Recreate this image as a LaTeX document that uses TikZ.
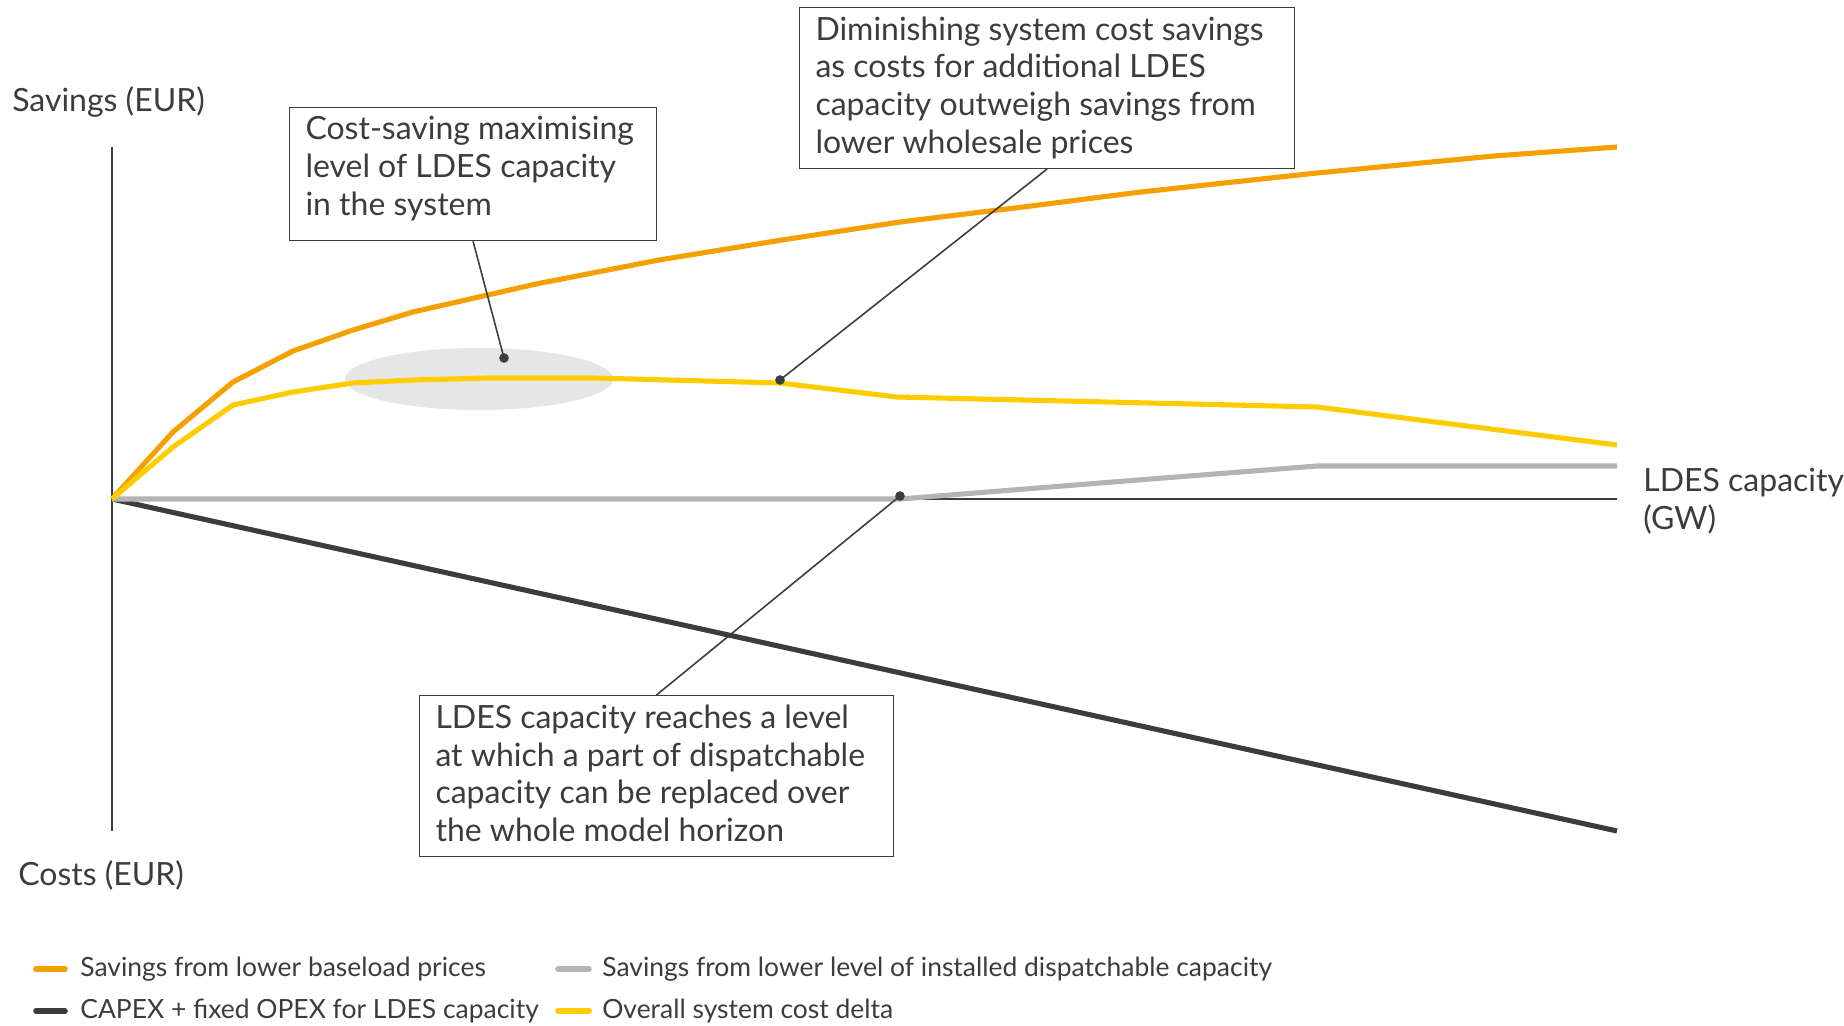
\documentclass[tikz,border=0pt]{standalone}
\usepackage{fontspec}
\setmainfont{Lato}
\usepackage{tikz}

\definecolor{ldesorange}{RGB}{244,160,0}
\definecolor{ldesyellow}{RGB}{255,204,0}
\definecolor{ldesgray}{RGB}{180,180,180}
\definecolor{ldesdark}{RGB}{60,60,60}
\definecolor{ldestext}{RGB}{60,60,60}
\definecolor{ldesshade}{RGB}{230,230,230}

\begin{document}
\begin{tikzpicture}[x=2cm, y=2cm,
    every node/.style={text=ldestext, font=\fontsize{18.2}{21.6}\selectfont},
    curve/.style={line width=2.9pt, line join=round},
    notebox/.style={draw=ldestext, line width=0.8pt, fill=white, align=left,
      anchor=north west, inner xsep=9pt, inner ysep=5pt,
      execute at begin node={\spaceskip=0pt\relax}},
    leader/.style={draw=ldestext, line width=0.9pt},
    dot/.style={circle, fill=ldestext, inner sep=0pt, minimum size=5.5pt},
    axislabel/.style={anchor=west, align=left, inner xsep=0pt},
    legend/.style={font=\fontsize{15.05}{18}\selectfont, anchor=west, inner sep=0pt},
    swatch/.style={line width=3.2pt, line cap=round}]

    \useasboundingbox (-1.12,-5.27) rectangle (17.32,4.99);

    % Shaded optimum area
    \fill[ldesshade] (3.67,1.20) ellipse (1.34 and 0.31);

    % Axes
    \draw[ldesdark, line width=1pt] (0,3.52) -- (0,-3.32);
    \draw[ldesdark, line width=1pt] (0,0) -- (15.05,0);
    \node[axislabel] (savlabel) at (-1.00,3.97) {Savings (EUR)};
    \node[axislabel] (costlabel) at (-0.94,-3.76) {Costs (EUR)};
    \node[axislabel] (caplabel) at (15.31,-0.02) {LDES capacity\\(GW)};

    % CAPEX + fixed OPEX
    \draw[curve, ldesdark] (0,0) -- (15.05,-3.32);

    % Savings from dispatchable capacity
    \draw[curve, ldesgray] (0,0) -- (7.88,0) -- (10.26,0.19) -- (12.05,0.33) -- (15.05,0.33);

    % Savings from baseload prices
    \draw[curve, ldesorange] plot coordinates {(0,0) (0.61,0.67) (1.21,1.17) (1.81,1.48)
      (2.41,1.69) (3.01,1.87) (4.24,2.15) (5.47,2.39) (6.70,2.59) (7.88,2.77)
      (9.11,2.92) (10.29,3.07) (12.05,3.26) (13.82,3.43) (15.05,3.52)};

    % Overall system cost delta
    \draw[curve, ldesyellow] plot coordinates {(0,0) (0.61,0.52) (1.21,0.94) (1.81,1.07)
      (2.41,1.16) (3.01,1.19) (3.75,1.21) (4.82,1.21) (6.68,1.16) (7.85,1.02)
      (12.05,0.92) (15.05,0.54)};

    % Annotations
    \node[dot] (peak) at (3.92,1.41) {};
    \node[dot] (decline) at (6.68,1.19) {};
    \node[dot] (replace) at (7.88,0.03) {};

    \node[notebox, text width=190.7pt, text depth=52.3pt] (costmax) at (1.77,3.92)
      {Cost-saving maximising\\level of LDES capacity\\in the system};
    \node[notebox, text width=263.5pt, text depth=68pt] (diminish) at (6.87,4.92)
      {Diminishing system cost savings\\as costs for additional LDES\\capacity outweigh savings from\\lower wholesale prices};
    \node[notebox, text width=251.5pt, text depth=68pt] (reachlvl) at (3.07,-1.96)
      {LDES capacity reaches a level\\at which a part of dispatchable\\capacity can be replaced over\\the whole model horizon};

    \draw[leader] (costmax.south) -- (peak.center);
    \draw[leader] (diminish.south) -- (decline.center);
    \draw[leader] (reachlvl.north) -- (replace.center);

    % Legend
    \draw[swatch, ldesorange] (-0.76,-4.70) -- (-0.47,-4.70);
    \node[legend] (lgbase) at (-0.32,-4.70) {Savings from lower baseload prices};
    \draw[swatch, ldesdark] (-0.76,-5.12) -- (-0.47,-5.12);
    \node[legend] (lgcapex) at (-0.32,-5.12) {CAPEX + fixed OPEX for LDES capacity};
    \draw[swatch, ldesgray] (4.46,-4.70) -- (4.77,-4.70);
    \node[legend] (lgdisp) at (4.90,-4.70) {Savings from lower level of installed dispatchable capacity};
    \draw[swatch, ldesyellow] (4.46,-5.12) -- (4.77,-5.12);
    \node[legend] (lgdelta) at (4.90,-5.12) {Overall system cost delta};
\end{tikzpicture}
\end{document}
